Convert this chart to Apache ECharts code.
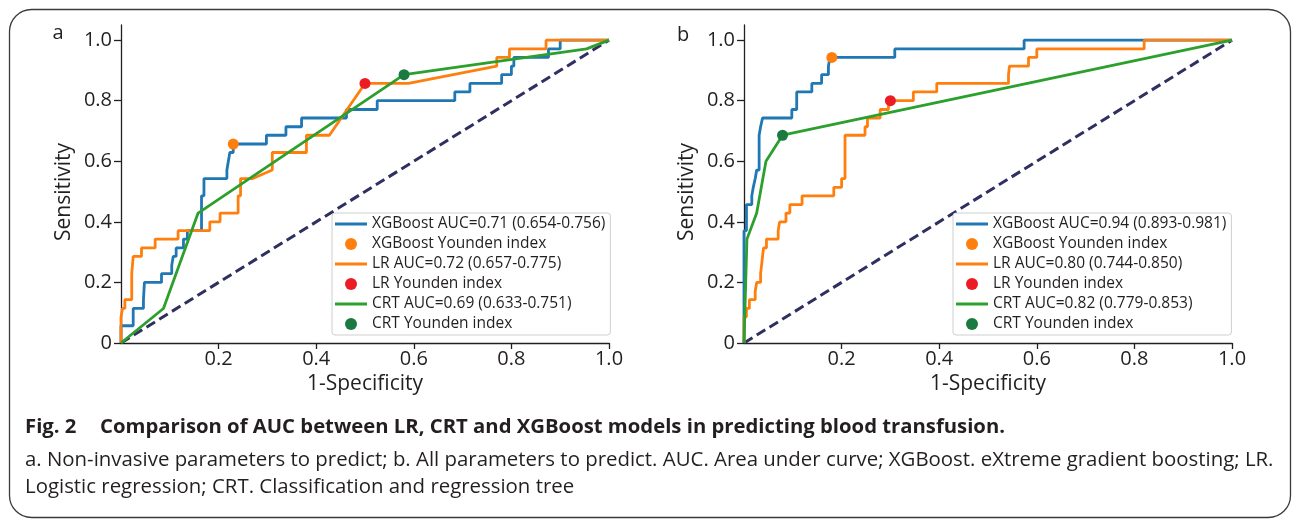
<!DOCTYPE html>
<html>
<head>
<meta charset="utf-8">
<script src="https://cdn.jsdelivr.net/npm/echarts@6/dist/echarts.min.js"></script>
<style>
html,body{margin:0;padding:0;background:#fff;}
#chart{width:1292px;height:519px;}
</style>
</head>
<body>
<div id="chart"></div>
<script>
// ---- tick labels ----
const xTicks = [0.2, 0.4, 0.6, 0.8, 1.0];
const xTickLabels = ['0.2', '0.4', '0.6', '0.8', '1.0'];
const yTicks = [0, 0.2, 0.4, 0.6, 0.8, 1.0];
const yTickLabels = ['0', '0.2', '0.4', '0.6', '0.8', '1.0'];

// ---- legend names ----
const namesA = ['XGBoost AUC=0.71 (0.654-0.756)', 'XGBoost Younden index', 'LR AUC=0.72 (0.657-0.775)', 'LR Younden index', 'CRT AUC=0.69 (0.633-0.751)', 'CRT Younden index'];
const namesB = ['XGBoost AUC=0.94 (0.893-0.981)', 'XGBoost Younden index', 'LR AUC=0.80 (0.744-0.850)', 'LR Younden index', 'CRT AUC=0.82 (0.779-0.853)', 'CRT Younden index'];

// ---- chance line ----
const diagonal = [[0, 0], [1, 1]];

// ---- panel a: ROC points [1-specificity, sensitivity] ----
const xgbA = [[0,0],[0,0.057],[0.025,0.057],[0.025,0.114],[0.046,0.114],[0.046,0.143],[0.048,0.143],[0.048,0.2],[0.083,0.2],[0.083,0.229],[0.104,0.229],[0.104,0.257],[0.107,0.257],[0.107,0.286],[0.113,0.286],[0.113,0.314],[0.128,0.314],[0.128,0.343],[0.136,0.343],[0.136,0.371],[0.165,0.371],[0.165,0.486],[0.17,0.486],[0.17,0.543],[0.217,0.543],[0.217,0.571],[0.22,0.571],[0.22,0.6],[0.223,0.6],[0.223,0.629],[0.23,0.629],[0.23,0.657],[0.298,0.657],[0.298,0.686],[0.338,0.686],[0.338,0.714],[0.37,0.714],[0.37,0.743],[0.462,0.743],[0.462,0.771],[0.525,0.771],[0.525,0.8],[0.684,0.8],[0.684,0.829],[0.715,0.829],[0.715,0.857],[0.78,0.857],[0.78,0.886],[0.8,0.886],[0.8,0.914],[0.805,0.914],[0.805,0.943],[0.876,0.943],[0.876,0.971],[0.9,0.971],[0.9,1],[1,1]];
const lrA = [[0,0],[0,0.086],[0.003,0.086],[0.003,0.114],[0.008,0.114],[0.008,0.143],[0.022,0.143],[0.022,0.229],[0.025,0.229],[0.025,0.286],[0.042,0.286],[0.042,0.314],[0.07,0.314],[0.07,0.343],[0.117,0.343],[0.117,0.371],[0.182,0.371],[0.182,0.4],[0.203,0.4],[0.203,0.429],[0.24,0.429],[0.24,0.486],[0.245,0.486],[0.245,0.543],[0.27,0.543],[0.31,0.571],[0.31,0.629],[0.38,0.629],[0.38,0.686],[0.427,0.686],[0.5,0.857],[0.589,0.857],[0.77,0.914],[0.77,0.943],[0.796,0.943],[0.796,0.971],[0.871,0.971],[0.871,1],[1,1]];
const crtA = [[0,0],[0.087,0.114],[0.158,0.429],[0.58,0.886],[0.954,0.971],[1,1]];
const xgbYoudenA = [[0.23, 0.657]];
const lrYoudenA = [[0.5, 0.857]];
const crtYoudenA = [[0.58, 0.886]];

// ---- panel b ----
const xgbB = [[0,0],[0,0.371],[0.005,0.371],[0.005,0.457],[0.016,0.457],[0.016,0.486],[0.019,0.486],[0.019,0.514],[0.023,0.514],[0.023,0.543],[0.026,0.543],[0.026,0.571],[0.031,0.571],[0.031,0.686],[0.034,0.686],[0.034,0.714],[0.038,0.714],[0.038,0.743],[0.098,0.743],[0.098,0.771],[0.108,0.771],[0.108,0.829],[0.139,0.829],[0.139,0.857],[0.159,0.857],[0.159,0.886],[0.173,0.886],[0.173,0.914],[0.176,0.914],[0.176,0.943],[0.309,0.943],[0.309,0.971],[0.574,0.971],[0.574,1],[1,1]];
const lrB = [[0,0],[0,0.086],[0.005,0.086],[0.005,0.114],[0.011,0.114],[0.011,0.143],[0.023,0.143],[0.023,0.171],[0.026,0.171],[0.026,0.2],[0.034,0.2],[0.034,0.229],[0.036,0.229],[0.036,0.257],[0.04,0.257],[0.04,0.314],[0.046,0.314],[0.046,0.343],[0.07,0.343],[0.07,0.371],[0.073,0.371],[0.073,0.4],[0.086,0.4],[0.086,0.429],[0.094,0.429],[0.094,0.457],[0.119,0.457],[0.119,0.486],[0.184,0.486],[0.184,0.514],[0.2,0.514],[0.2,0.543],[0.207,0.543],[0.207,0.686],[0.248,0.686],[0.248,0.714],[0.253,0.714],[0.253,0.743],[0.279,0.743],[0.279,0.771],[0.296,0.771],[0.296,0.8],[0.347,0.8],[0.347,0.829],[0.395,0.829],[0.395,0.857],[0.542,0.857],[0.542,0.886],[0.544,0.886],[0.544,0.914],[0.583,0.914],[0.583,0.943],[0.6,0.943],[0.6,0.971],[0.82,0.971],[0.82,1],[1,1]];
const crtB = [[0,0],[0.006,0.343],[0.026,0.429],[0.045,0.6],[0.079,0.686],[1,1]];
const xgbYoudenB = [[0.18, 0.943]];
const lrYoudenB = [[0.3, 0.8]];
const crtYoudenB = [[0.079, 0.686]];

// ---- caption ----
const captionLabel = 'Fig. 2';
const captionTitle = 'Comparison of AUC between LR, CRT and XGBoost models in predicting blood transfusion.';
const captionLine1 = 'a. Non-invasive parameters to predict; b. All parameters to predict. AUC. Area under curve; XGBoost. eXtreme gradient boosting; LR.';
const captionLine2 = 'Logistic regression; CRT. Classification and regression tree';
const panelLetters = ['a', 'b'];

// ---- styling ----
const FONT = '"Open Sans", "Noto Sans", sans-serif';
const INK = '#231f20';
const C_BLUE = '#1f77b4', C_ORANGE = '#ff7f0e', C_GREEN = '#2ca02c';
const C_RED = '#ec1c24', C_DKGREEN = '#1a7a40', C_DASH = '#2f2f60';
const LINE_ICON = 'path://M0,0L32,0L32,3L0,3Z';

function labelFor(ticks, labels) {
  return function (v) {
    const i = ticks.findIndex(t => Math.abs(t - v) < 1e-9);
    return i >= 0 ? labels[i] : '';
  };
}

function xAxisFor(idx) {
  return {
    type: 'value', gridIndex: idx, min: 0, max: 1,
    name: '1-Specificity', nameLocation: 'middle', nameGap: 29,
    nameTextStyle: { fontSize: 21, color: INK, fontFamily: FONT },
    axisLine: { show: true, lineStyle: { color: INK, width: 1.3 } },
    axisTick: { show: true, length: 6, lineStyle: { color: INK, width: 1.3 }, customValues: xTicks },
    axisLabel: { show: true, margin: 6, fontSize: 20, color: INK, fontFamily: FONT, customValues: xTicks, formatter: labelFor(xTicks, xTickLabels) },
    splitLine: { show: false }
  };
}
function yAxisFor(idx) {
  return {
    type: 'value', gridIndex: idx, min: 0, max: 1.05,
    name: 'Sensitivity', nameLocation: 'middle', nameGap: 46,
    nameTextStyle: { fontSize: 21, color: INK, fontFamily: FONT, padding: [0, 16, 0, 0] },
    axisLine: { show: true, lineStyle: { color: INK, width: 1.3 } },
    axisTick: { show: true, length: 7, lineStyle: { color: INK, width: 1.3 }, customValues: yTicks },
    axisLabel: { show: true, margin: 9, fontSize: 20, color: INK, fontFamily: FONT, customValues: yTicks, formatter: labelFor(yTicks, yTickLabels) },
    splitLine: { show: false }
  };
}

function lineSeries(name, data, color, idx) {
  return { type: 'line', name: name, data: data, xAxisIndex: idx, yAxisIndex: idx,
    showSymbol: false, symbol: 'none', color: color,
    lineStyle: { color: color, width: 2.8 }, z: 3, animation: false };
}
function dotSeries(name, data, color, idx) {
  return { type: 'scatter', name: name, data: data, xAxisIndex: idx, yAxisIndex: idx,
    symbol: 'circle', symbolSize: 11, itemStyle: { color: color, opacity: 1 }, color: color, z: 5, animation: false };
}
function diagSeries(idx) {
  return { type: 'line', data: diagonal, xAxisIndex: idx, yAxisIndex: idx, showSymbol: false, symbol: 'none',
    lineStyle: { color: C_DASH, width: 3, type: [10, 5] }, z: 2, animation: false, silent: true };
}

function legendFor(names, left) {
  return {
    data: names.map((n, i) => (i % 2 === 0 ? { name: n, icon: LINE_ICON } : { name: n, icon: 'circle' })),
    orient: 'vertical', left: left, top: 213,
    padding: [1, 5, 1, 3], itemGap: 0, itemWidth: 32, itemHeight: 12,
    backgroundColor: '#fff', borderColor: '#cfcfcf', borderWidth: 1, borderRadius: 3,
    textStyle: { fontSize: 15.5, color: INK, fontFamily: FONT, lineHeight: 20 },
    selectedMode: false
  };
}

const chart = echarts.init(document.getElementById('chart'), null, { renderer: 'canvas' });
chart.setOption({
  animation: false,
  backgroundColor: '#fff',
  grid: [
    { left: 121, width: 488, top: 25, bottom: 176 },
    { left: 744, width: 488, top: 25, bottom: 176 }
  ],
  xAxis: [xAxisFor(0), xAxisFor(1)],
  yAxis: [yAxisFor(0), yAxisFor(1)],
  legend: [legendFor(namesA, 332), legendFor(namesB, 953)],
  series: [
    diagSeries(0),
    lineSeries(namesA[0], xgbA, C_BLUE, 0),
    lineSeries(namesA[2], lrA, C_ORANGE, 0),
    lineSeries(namesA[4], crtA, C_GREEN, 0),
    dotSeries(namesA[1], xgbYoudenA, C_ORANGE, 0),
    dotSeries(namesA[3], lrYoudenA, C_RED, 0),
    dotSeries(namesA[5], crtYoudenA, C_DKGREEN, 0),
    diagSeries(1),
    lineSeries(namesB[0], xgbB, C_BLUE, 1),
    lineSeries(namesB[2], lrB, C_ORANGE, 1),
    lineSeries(namesB[4], crtB, C_GREEN, 1),
    dotSeries(namesB[1], xgbYoudenB, C_ORANGE, 1),
    dotSeries(namesB[3], lrYoudenB, C_RED, 1),
    dotSeries(namesB[5], crtYoudenB, C_DKGREEN, 1)
  ],
  graphic: [
    { type: 'rect', silent: true, z: -1, shape: { x: 9.5, y: 9.5, width: 1281, height: 508, r: 22 },
      style: { fill: 'none', stroke: '#3a3a3a', lineWidth: 1.3 } },
    { type: 'text', x: 58, y: 33, style: { text: panelLetters[0], font: '20px ' + FONT, fill: INK, textAlign: 'center', textVerticalAlign: 'middle' } },
    { type: 'text', x: 683, y: 35, style: { text: panelLetters[1], font: '20px ' + FONT, fill: INK, textAlign: 'center', textVerticalAlign: 'middle' } },
    { type: 'text', x: 25, y: 427, style: { text: captionLabel, font: 'bold 20.3px ' + FONT, fill: INK, textVerticalAlign: 'middle' } },
    { type: 'text', x: 100, y: 427, style: { text: captionTitle, font: 'bold 20.3px ' + FONT, fill: INK, textVerticalAlign: 'middle' } },
    { type: 'text', x: 25, y: 460, style: { text: captionLine1, font: '20.4px ' + FONT, fill: INK, textVerticalAlign: 'middle' } },
    { type: 'text', x: 25, y: 487, style: { text: captionLine2, font: '20.4px ' + FONT, fill: INK, textVerticalAlign: 'middle' } }
  ]
});
</script>
</body>
</html>
